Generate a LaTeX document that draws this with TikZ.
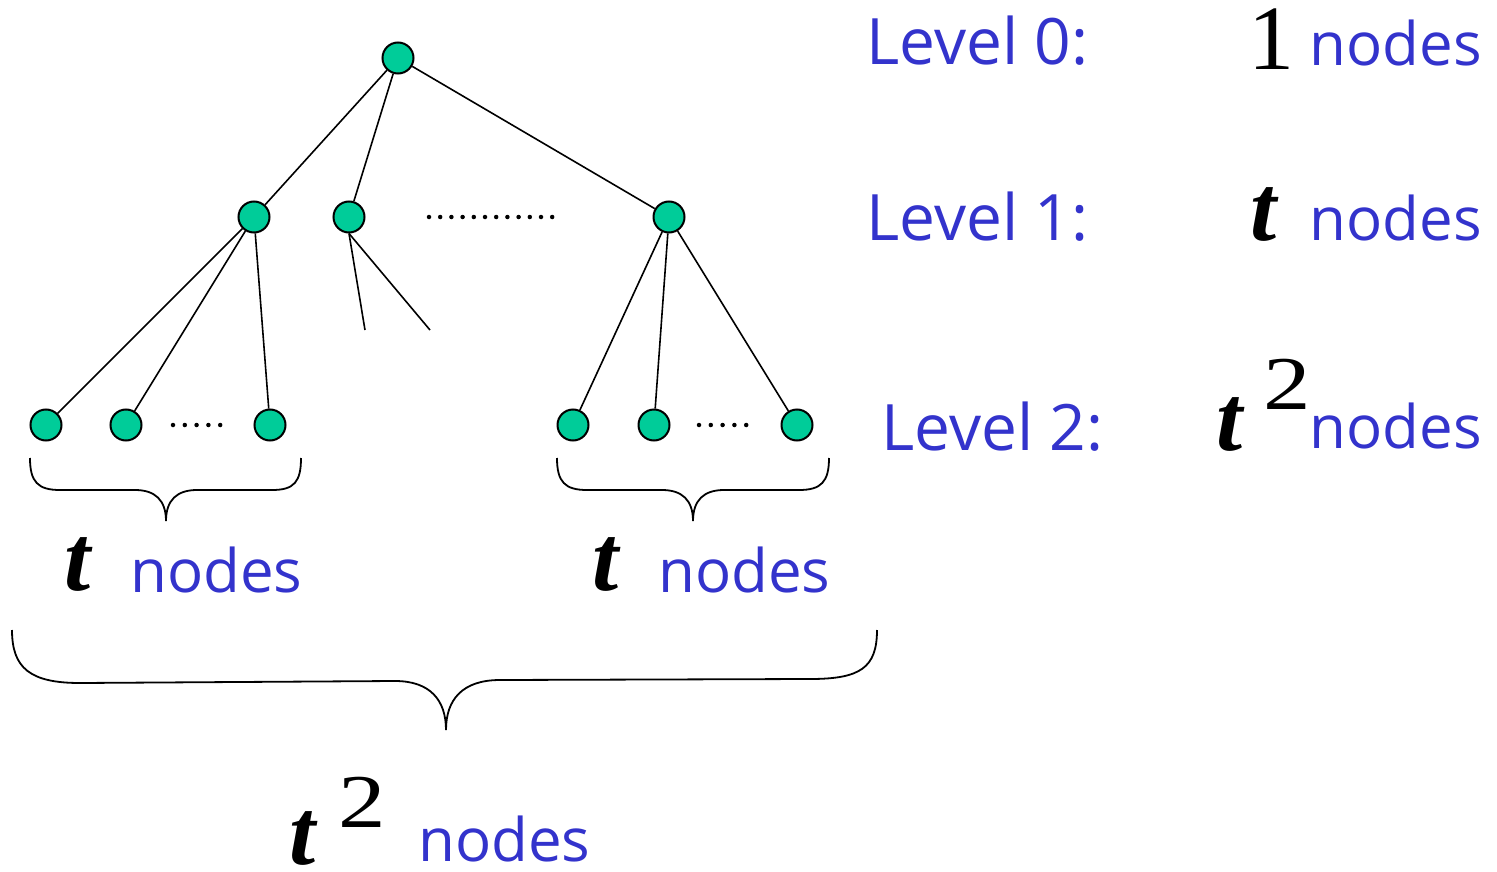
\documentclass[tikz,border=0pt]{standalone}
\usepackage{fontspec}
\usepackage{graphicx}
\setmainfont{Liberation Serif}
\newfontfamily\labfont{Open Sans}
\definecolor{nodegreen}{HTML}{00CC99}
\definecolor{labblue}{HTML}{3333CC}
\begin{document}
\begin{tikzpicture}[x=1pt,y=-1pt,
  tnode/.style={circle,draw=black,line width=2pt,fill=nodegreen,minimum size=31pt,inner sep=0pt},
  edge/.style={line width=1.6pt},
  brace/.style={line width=1.8pt},
  lab/.style={text=labblue,font=\labfont\fontsize{64}{64}\selectfont,inner sep=0pt,text depth=0pt,text height=40pt},
  ndlab/.style={text=labblue,font=\labfont\fontsize{60}{60}\selectfont,inner sep=0pt,text depth=0pt,text height=40pt},
  mathlab/.style={text=black,font=\fontsize{94}{94}\selectfont\bfseries\itshape,inner sep=0pt,text depth=0pt,text height=50pt},
  onelab/.style={text=black,font=\fontsize{92}{92}\selectfont,inner sep=0pt,text depth=0pt,text height=55pt},
  suplab/.style={text=black,font=\fontsize{76}{76}\selectfont,inner sep=0pt,text depth=0pt,text height=50pt},
  dot/.style={circle,fill=black,inner sep=0pt,minimum size=4.5pt}]
\useasboundingbox (0,0) rectangle (1497,872);
% tree nodes
\node[tnode] (root) at (398,58) {};
\node[tnode] (a) at (254,217) {};
\node[tnode] (b) at (349,217) {};
\node[tnode] (c) at (669,217) {};
\node[tnode] (l1) at (46,425) {};
\node[tnode] (l2) at (126,425) {};
\node[tnode] (l3) at (270,425) {};
\node[tnode] (r1) at (573,425) {};
\node[tnode] (r2) at (654,425) {};
\node[tnode] (r3) at (797,425) {};
\coordinate (s1) at (365,330);
\coordinate (s2) at (430,330);
% edges
\draw[edge] (root) -- (a);
\draw[edge] (root) -- (b);
\draw[edge] (root) -- (c);
\draw[edge] (a) -- (l1);
\draw[edge] (a) -- (l2);
\draw[edge] (a) -- (l3);
\draw[edge] (b.south) -- (s1);
\draw[edge] (b.south) -- (s2);
\draw[edge] (c) -- (r1);
\draw[edge] (c) -- (r2);
\draw[edge] (c) -- (r3);
% dots
\foreach \i in {0,...,11} \node[dot] at ({429+\i*11.2},217) {};
\foreach \i in {0,...,4} \node[dot] at ({173+\i*11.8},425) {};
\foreach \i in {0,...,4} \node[dot] at ({699+\i*11.8},425) {};
% braces
\draw[brace] (30,458) .. controls (30,482) and (38,490) .. (60,490) -- (135,490)
  .. controls (155,490) and (166,500) .. (166,521)
  .. controls (166,500) and (177,490) .. (197,490) -- (272,490)
  .. controls (294,490) and (301,482) .. (301,458);
\draw[brace] (557,458) .. controls (557,482) and (565,490) .. (587,490) -- (662,490)
  .. controls (682,490) and (693,500) .. (693,521)
  .. controls (693,500) and (704,490) .. (724,490) -- (799,490)
  .. controls (821,490) and (829,482) .. (829,458);
\draw[brace] (12,630) .. controls (12,668) and (30,683) .. (80,683) -- (395,681)
  .. controls (430,681) and (446,700) .. (446,730)
  .. controls (446,700) and (462,680) .. (500,680) -- (810,679)
  .. controls (860,679) and (877,668) .. (877,630);
% level labels
\node[lab,anchor=base west] (lv0) at (866,65) {Level 0:};
\node[lab,anchor=base west] (lv1) at (866,240) {Level 1:};
\node[lab,anchor=base west] (lv2) at (881,450) {Level 2:};
\node[onelab,anchor=base west] (n0) at (1248,70) {1};
\node[ndlab,anchor=base east] (nd0) at (1482,66) {nodes};
\node[mathlab,anchor=base west] (t1) at (1250,240) {t};
\node[ndlab,anchor=base east] (nd1) at (1482,240) {nodes};
\node[mathlab,anchor=base west] (t2) at (1216,450) {t};
\node[suplab,anchor=base west] (e2) at (1263,409) {\scalebox{1.25}[1]{2}};
\node[ndlab,anchor=base east] (nd2) at (1482,448) {nodes};
% bottom labels
\node[mathlab,anchor=base west] (tl) at (64,590) {t};
\node[ndlab,anchor=base west] (ndl) at (130,592) {nodes};
\node[mathlab,anchor=base west] (tr) at (592,590) {t};
\node[ndlab,anchor=base west] (ndr) at (658,592) {nodes};
\node[mathlab,anchor=base west] (tb) at (289,864) {t};
\node[suplab,anchor=base west] (eb) at (338,827) {\scalebox{1.25}[1]{2}};
\node[ndlab,anchor=base west] (ndb) at (418,861) {nodes};
\end{tikzpicture}
\end{document}
